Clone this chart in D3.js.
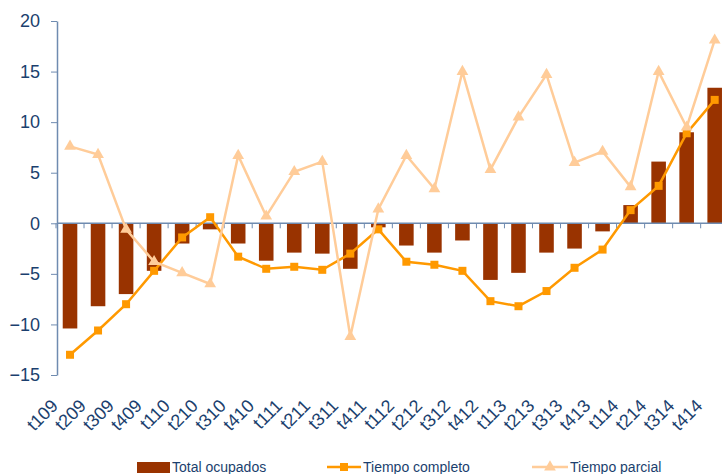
<!DOCTYPE html>
<html>
<head>
<meta charset="utf-8">
<script src="https://cdn.jsdelivr.net/npm/d3@7/dist/d3.min.js"></script>
<style>
  body { margin: 0; background: #fff; overflow: hidden; }
  svg { font-family: "Liberation Sans", Arial, sans-serif; }
  .axis text { fill: #1b3f6e; }
  .axis path, .axis line { stroke: #6f8bb0; }
</style>
</head>
<body>
<svg width="722" height="474"></svg>
<script>
const categories = ["t109","t209","t309","t409","t110","t210","t310","t410","t111","t211","t311","t411",
                    "t112","t212","t312","t412","t113","t213","t313","t413","t114","t214","t314","t414"];
const totalOcupados = [-10.4,-8.2,-7.0,-4.7,-2.0,-0.6,-2.0,-3.7,-2.9,-3.0,-4.5,-0.4,
                       -2.2,-2.9,-1.7,-5.6,-4.9,-2.9,-2.5,-0.8,1.8,6.1,9.0,13.4];
const tiempoCompleto = [-13.0,-10.6,-8.0,-4.7,-1.4,0.6,-3.3,-4.5,-4.3,-4.6,-3.0,-0.6,
                        -3.8,-4.1,-4.7,-7.7,-8.2,-6.7,-4.4,-2.6,1.3,3.7,8.9,12.2];
const tiempoParcial = [7.6,6.8,-0.6,-3.8,-4.9,-6.0,6.7,0.7,5.1,6.1,-11.2,1.4,
                       6.7,3.4,15.0,5.3,10.5,14.7,6.0,7.1,3.6,15.0,9.5,18.1];
const yTicks = [-15,-10,-5,0,5,10,15,20];

const svg = d3.select("svg");
const x = d3.scaleBand().domain(categories).range([56, 728.7]);
const y = d3.scaleLinear().domain([-15, 20]).range([375, 21]);

const cBar = "#993300", cFull = "#ff9900", cPart = "#ffcc99";

// y axis
const yAxis = svg.append("g").attr("class", "axis")
  .attr("transform", "translate(57,0)")
  .call(d3.axisLeft(y).tickValues(yTicks).tickSize(6).tickPadding(11).tickSizeOuter(0));
yAxis.selectAll("text").style("font-size", "18px");
yAxis.select(".domain").attr("stroke-width", 1.5);

// bars
svg.append("g").selectAll("rect")
  .data(totalOcupados)
  .join("rect")
  .attr("x", (d, i) => x(categories[i]) + x.bandwidth() * 0.24)
  .attr("width", x.bandwidth() * 0.52)
  .attr("y", d => y(Math.max(0, d)))
  .attr("height", d => Math.abs(y(d) - y(0)))
  .attr("fill", cBar);

// x axis at zero
const xAxis = svg.append("g").attr("class", "axis")
  .attr("transform", `translate(0,${y(0)})`);
xAxis.append("line").attr("x1", 57).attr("x2", 722).attr("stroke-width", 1.5);
xAxis.selectAll("line.tk")
  .data(categories)
  .join("line").attr("class", "tk")
  .attr("x1", d => x(d)).attr("x2", d => x(d))
  .attr("y1", 0).attr("y2", 5);

// x labels
svg.append("g").attr("class", "axis").selectAll("text")
  .data(categories)
  .join("text")
  .attr("transform", d => `translate(${x(d) + x.bandwidth() / 2 - 11},407) rotate(-45)`)
  .attr("text-anchor", "end")
  .style("font-size", "18px")
  .text(d => d);

const cx = i => x(categories[i]) + x.bandwidth() / 2;
const line = d3.line().x((d, i) => cx(i)).y(d => y(d));

// tiempo completo
svg.append("path").datum(tiempoCompleto)
  .attr("d", line).attr("fill", "none").attr("stroke", cFull).attr("stroke-width", 2.5);
svg.append("g").selectAll("rect")
  .data(tiempoCompleto)
  .join("rect")
  .attr("x", (d, i) => cx(i) - 4).attr("y", d => y(d) - 4)
  .attr("width", 8).attr("height", 8).attr("fill", cFull);

// tiempo parcial
const tri = d3.symbol().type(d3.symbolTriangle).size(60);
svg.append("path").datum(tiempoParcial)
  .attr("d", line).attr("fill", "none").attr("stroke", cPart).attr("stroke-width", 2.5);
svg.append("g").selectAll("path")
  .data(tiempoParcial)
  .join("path")
  .attr("d", tri)
  .attr("transform", (d, i) => `translate(${cx(i)},${y(d)})`)
  .attr("fill", cPart);

// legend
const legend = svg.append("g").style("font-size", "14px");
legend.append("rect").attr("x", 137).attr("y", 462).attr("width", 33).attr("height", 11).attr("fill", cBar);
legend.append("text").attr("x", 172).attr("y", 472).attr("fill", "#1b3f6e").text("Total ocupados");
legend.append("line").attr("x1", 327).attr("x2", 361).attr("y1", 467).attr("y2", 467)
  .attr("stroke", cFull).attr("stroke-width", 2.5);
legend.append("rect").attr("x", 340).attr("y", 463).attr("width", 8).attr("height", 8).attr("fill", cFull);
legend.append("text").attr("x", 363).attr("y", 472).attr("fill", "#1b3f6e").text("Tiempo completo");
legend.append("line").attr("x1", 532).attr("x2", 568).attr("y1", 467).attr("y2", 467)
  .attr("stroke", cPart).attr("stroke-width", 2.5);
legend.append("path").attr("d", tri).attr("transform", "translate(550,467)").attr("fill", cPart);
legend.append("text").attr("x", 570).attr("y", 472).attr("fill", "#1b3f6e").text("Tiempo parcial");
</script>
</body>
</html>
